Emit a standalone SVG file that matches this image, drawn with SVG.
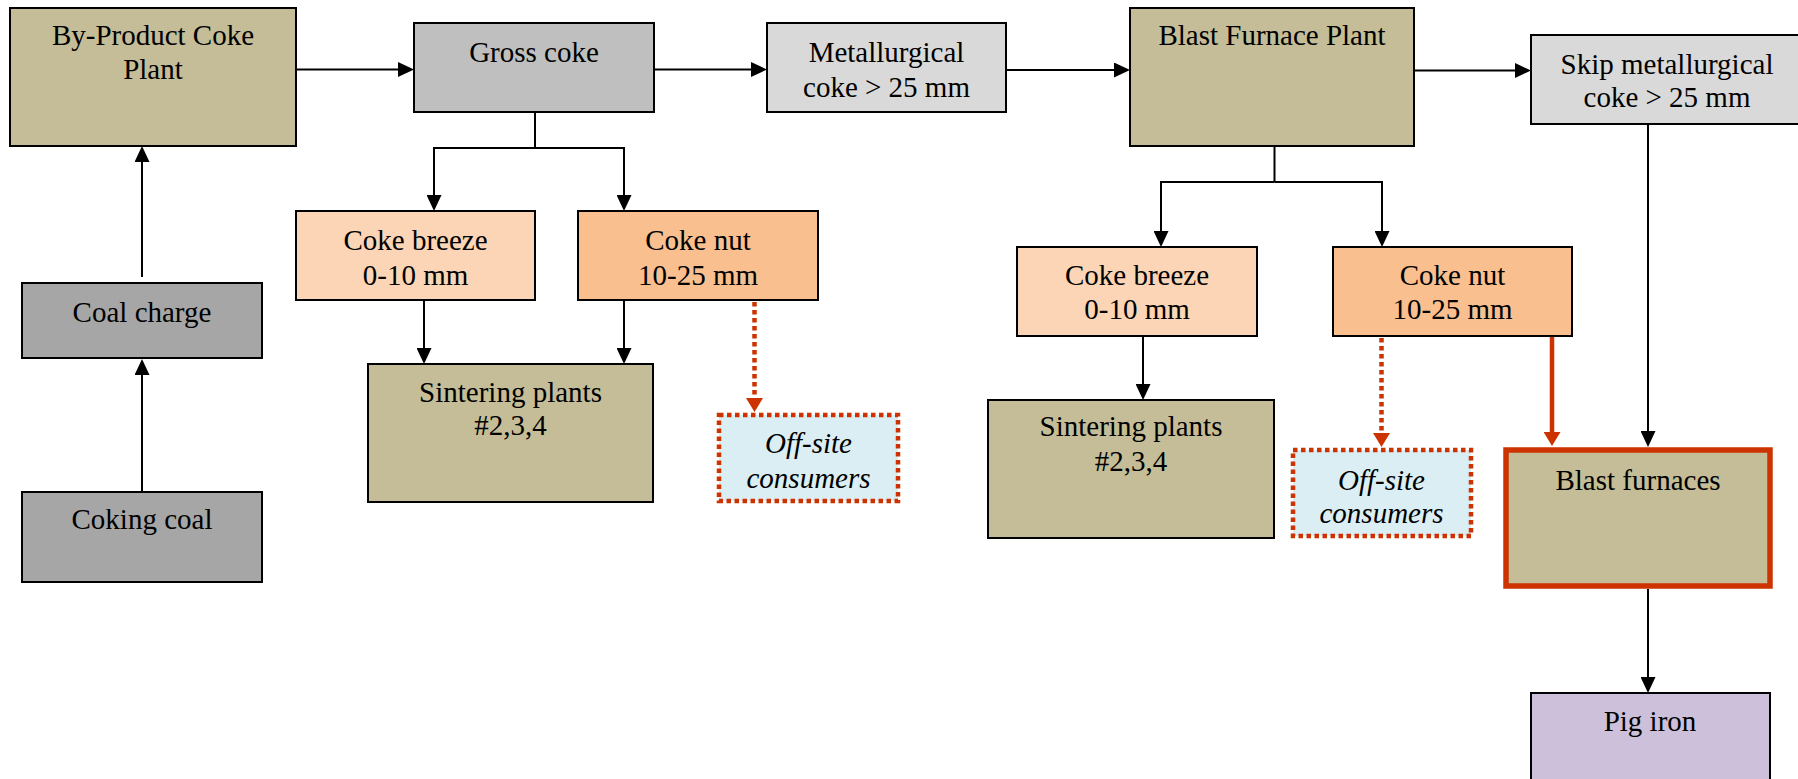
<svg xmlns="http://www.w3.org/2000/svg" width="1798" height="779" viewBox="0 0 1798 779">
<style>
  .box { stroke: #000; stroke-width: 2; }
  .khaki { fill: #C4BD97; }
  .gray1 { fill: #BFBFBF; }
  .gray2 { fill: #D9D9D9; }
  .gray3 { fill: #A6A6A6; }
  .breeze { fill: #FBD5B5; }
  .nut { fill: #F9BF8F; }
  .offsite { fill: #DBEEF3; stroke: #CC3300; stroke-width: 4.5; stroke-dasharray: 4.5 3.5; }
  .bf { fill: #C4BD97; stroke: #CC3300; stroke-width: 5.5; }
  .pig { fill: #CCC0DA; }
  text { font-family: "Liberation Serif", "Times New Roman", serif; font-size: 29px; fill: #000; text-anchor: middle; }
  .it { font-style: italic; }
  .conn { fill: none; stroke: #000; stroke-width: 2; }
  .red { fill: none; stroke: #CC3300; stroke-width: 4.5; }
  .dot { fill: none; stroke: #CC3300; stroke-width: 4.5; stroke-dasharray: 4.5 3.5; }
</style>
<defs>
  <marker id="arr" viewBox="0 0 16 15" refX="5" refY="7.5" markerWidth="16" markerHeight="15" markerUnits="userSpaceOnUse" orient="auto">
    <path d="M0,0 L16,7.5 L0,15 z" fill="#000"/>
  </marker>
  <marker id="arrR" viewBox="0 0 14 17" refX="4" refY="8.5" markerWidth="14" markerHeight="17" markerUnits="userSpaceOnUse" orient="auto">
    <path d="M0,0 L14,8.5 L0,17 z" fill="#CC3300"/>
  </marker>
</defs>

<g id="connectors">
  <path class="conn" d="M142,492 V370" marker-end="url(#arr)"/>
  <path class="conn" d="M142,277 V157" marker-end="url(#arr)"/>
  <path class="conn" d="M296,69.5 H403" marker-end="url(#arr)"/>
  <path class="conn" d="M654,69.5 H756" marker-end="url(#arr)"/>
  <path class="conn" d="M1006,70 H1119" marker-end="url(#arr)"/>
  <path class="conn" d="M1414,70.5 H1520" marker-end="url(#arr)"/>
  <path class="conn" d="M535,112 V148"/>
  <path class="conn" d="M535,148 H434 V200" marker-end="url(#arr)"/>
  <path class="conn" d="M535,148 H624 V200" marker-end="url(#arr)"/>
  <path class="conn" d="M424,300 V353" marker-end="url(#arr)"/>
  <path class="conn" d="M624,300 V353" marker-end="url(#arr)"/>
  <path class="dot" d="M754.5,302 V402" marker-end="url(#arrR)"/>
  <path class="conn" d="M1274.5,146 V182"/>
  <path class="conn" d="M1274.5,182 H1161 V236" marker-end="url(#arr)"/>
  <path class="conn" d="M1274.5,182 H1382 V236" marker-end="url(#arr)"/>
  <path class="conn" d="M1143,336 V389" marker-end="url(#arr)"/>
  <path class="dot" d="M1381.5,338 V437" marker-end="url(#arrR)"/>
  <path class="red" d="M1552,336 V436" marker-end="url(#arrR)"/>
  <path class="conn" d="M1648,124 V436" marker-end="url(#arr)"/>
  <path class="conn" d="M1648,589 V682" marker-end="url(#arr)"/>
</g>

<g id="byproduct">
  <rect class="box khaki" x="10" y="8" width="286" height="138"/>
  <text x="153" y="45">By-Product Coke</text>
  <text x="153" y="79">Plant</text>
</g>
<g id="gross-coke">
  <rect class="box gray1" x="414" y="23" width="240" height="89"/>
  <text x="534" y="62">Gross coke</text>
</g>
<g id="metallurgical">
  <rect class="box gray2" x="767" y="23" width="239" height="89"/>
  <text x="886.5" y="62">Metallurgical</text>
  <text x="886.5" y="97">coke &gt; 25 mm</text>
</g>
<g id="bfp">
  <rect class="box khaki" x="1130" y="8" width="284" height="138"/>
  <text x="1272" y="45">Blast Furnace Plant</text>
</g>
<g id="skip">
  <rect class="box gray2" x="1531" y="35" width="272" height="89"/>
  <text x="1667" y="74">Skip metallurgical</text>
  <text x="1667" y="107">coke &gt; 25 mm</text>
</g>
<g id="coal-charge">
  <rect class="box gray3" x="22" y="283" width="240" height="75"/>
  <text x="142" y="322">Coal charge</text>
</g>
<g id="coking-coal">
  <rect class="box gray3" x="22" y="492" width="240" height="90"/>
  <text x="142" y="529">Coking coal</text>
</g>
<g id="breeze1">
  <rect class="box breeze" x="296" y="211" width="239" height="89"/>
  <text x="415.5" y="250">Coke breeze</text>
  <text x="415.5" y="285">0-10 mm</text>
</g>
<g id="nut1">
  <rect class="box nut" x="578" y="211" width="240" height="89"/>
  <text x="698" y="250">Coke nut</text>
  <text x="698" y="285">10-25 mm</text>
</g>
<g id="sinter1">
  <rect class="box khaki" x="368" y="364" width="285" height="138"/>
  <text x="510.5" y="402">Sintering plants</text>
  <text x="510.5" y="435">#2,3,4</text>
</g>
<g id="offsite1">
  <rect class="offsite" x="719" y="415" width="179" height="86"/>
  <text class="it" x="808.5" y="453">Off-site</text>
  <text class="it" x="808.5" y="488">consumers</text>
</g>
<g id="breeze2">
  <rect class="box breeze" x="1017" y="247" width="240" height="89"/>
  <text x="1137" y="285">Coke breeze</text>
  <text x="1137" y="319">0-10 mm</text>
</g>
<g id="nut2">
  <rect class="box nut" x="1333" y="247" width="239" height="89"/>
  <text x="1452.5" y="285">Coke nut</text>
  <text x="1452.5" y="319">10-25 mm</text>
</g>
<g id="sinter2">
  <rect class="box khaki" x="988" y="400" width="286" height="138"/>
  <text x="1131" y="436">Sintering plants</text>
  <text x="1131" y="471">#2,3,4</text>
</g>
<g id="offsite2">
  <rect class="offsite" x="1293" y="450" width="178" height="86"/>
  <text class="it" x="1381.5" y="490">Off-site</text>
  <text class="it" x="1381.5" y="523">consumers</text>
</g>
<g id="blast-furnaces">
  <rect class="bf" x="1506" y="450" width="264" height="136"/>
  <text x="1638" y="490">Blast furnaces</text>
</g>
<g id="pig-iron">
  <rect class="box pig" x="1531" y="693" width="239" height="100"/>
  <text x="1650" y="731">Pig iron</text>
</g>
</svg>
